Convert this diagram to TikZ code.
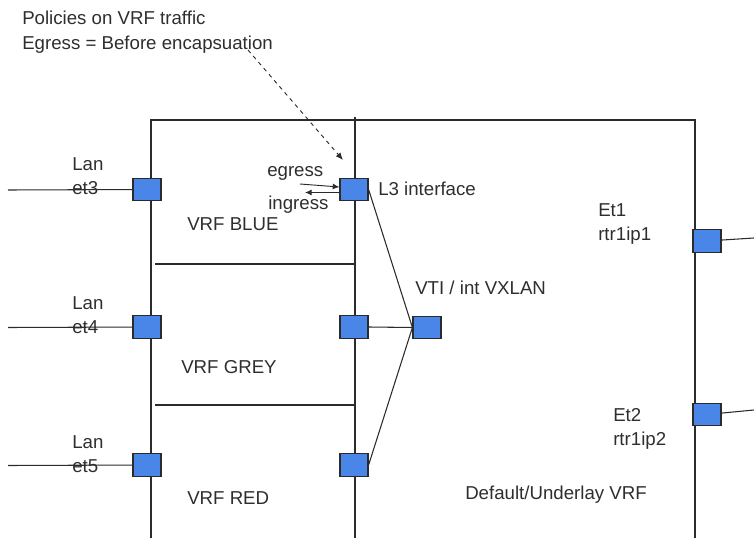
\documentclass[tikz,border=0pt]{standalone}
\usepackage{fontspec}
\setmainfont{Liberation Sans}
\usepackage{tikz}
\usetikzlibrary{positioning,arrows.meta}
\definecolor{portblue}{HTML}{4A86E8}
\definecolor{ink}{HTML}{2B2B2B}
\definecolor{txt}{HTML}{2E2E2E}
\tikzset{
  port/.style ={rectangle, draw=ink, fill=portblue, line width=0.9pt, minimum width=21pt, minimum height=17pt, inner sep=0pt},
  wire/.style ={draw=ink, line width=0.8pt},
  lbl/.style  ={font=\fontsize{14}{18}\selectfont, text=txt, inner sep=0pt, anchor=base west},
  lbltwo/.style={font=\fontsize{14}{18.3}\selectfont, text=txt, inner sep=0pt, anchor=north west, align=left},
  flow/.style ={-{Latex[length=5pt,width=4.5pt]}, draw=ink, line width=0.7pt},
  hint/.style ={-{Latex[length=5.5pt,width=4.5pt]}, draw=ink, line width=0.7pt, dashed},
}

\begin{document}
\begin{tikzpicture}[x=0.75pt, y=-0.75pt]
        \useasboundingbox (0,0) rectangle (754,538);
        % router frame and vrf split
        \coordinate (fnw)  at (151,120);
        \coordinate (fne)  at (695,120);
        \coordinate (fsw)  at (151,538);
        \coordinate (fse)  at (695,538);
        \coordinate (mtop) at (355,117);
        \coordinate (mbot) at (355,538);
        \draw[wire] (fsw) -- (fnw) -- (fne) -- (fse);
        \draw[wire] (mtop) -- (mbot);
        \coordinate (sepa) at (155,264);
        \coordinate (sepb) at (155,405);
        \draw[wire] (sepa) -- (sepa -| mtop);
        \draw[wire] (sepb) -- (sepb -| mtop);
        % ports
        \node[port] (lan3)  at (147,189.5) {};
        \node[port] (lan4)  at (147,327)   {};
        \node[port] (lan5)  at (147,465)   {};
        \node[port] (l3)    at (354,189.5) {};
        \node[port] (l3gry) at (354,327)   {};
        \node[port] (l3red) at (354,465)   {};
        \node[port] (vti)   at (427,327.5) {};
        \node[port] (et1)   at (707,241)   {};
        \node[port] (et2)   at (707,414.5) {};
        % outside links
        \coordinate (in3)  at (8,190);
        \coordinate (in4)  at (8,327.5);
        \coordinate (in5)  at (8,465.5);
        \coordinate (up1)  at (754,238);
        \coordinate (up2)  at (754,410);
        \draw[wire] (in3) -- (lan3);
        \draw[wire] (in4) -- (lan4);
        \draw[wire] (in5) -- (lan5);
        \draw[wire] (et1) -- (up1);
        \draw[wire] (et2) -- (up2);
        % vti fan
        \draw[wire] (l3.east)    -- (vti.west);
        \draw[wire] (l3gry.east) -- (vti.west);
        \draw[wire] (l3red.east) -- (vti.west);
        % policy note
        \node[lbltwo] (policy) at (22,11) {Policies on VRF traffic\\Egress = Before encapsuation};
        \coordinate (hintfrom) at (248,50);
        \coordinate (hintto)   at (343,160);
        \draw[hint] (hintfrom) -- (hintto);
        \coordinate (egfrom) at (300,184);
        \coordinate (igto)   at (305,192.5);
        \draw[flow] (egfrom) -- (l3.west |- 0,187);
        \draw[flow] (l3.west |- 0,192.5) -- (igto);
        % labels
        \node[lbl] (egl)   at (267,176.5) {egress};
        \node[lbl] (igl)   at (268,209.5) {ingress};
        \node[lbl] (l3l)   at (378,195.5) {L3 interface};
        \node[lbl] (blue)  at (187,230.5) {VRF BLUE};
        \node[lbl] (grey)  at (181,373.5) {VRF GREY};
        \node[lbl] (red)   at (187,504.5) {VRF RED};
        \node[lbl] (vtil)  at (415,294.5) {VTI / int VXLAN};
        \node[lbl] (dflt)  at (465,499.5) {Default/Underlay VRF};
        \node[lbltwo] (lan3l) at (72,157) {Lan\\et3};
        \node[lbltwo] (lan4l) at (72,296) {Lan\\et4};
        \node[lbltwo] (lan5l) at (72,435) {Lan\\et5};
        \node[lbltwo] (et1l)  at (598,203) {Et1\\rtr1ip1};
        \node[lbltwo] (et2l)  at (613,408) {Et2\\rtr1ip2};
      \end{tikzpicture}
\end{document}
